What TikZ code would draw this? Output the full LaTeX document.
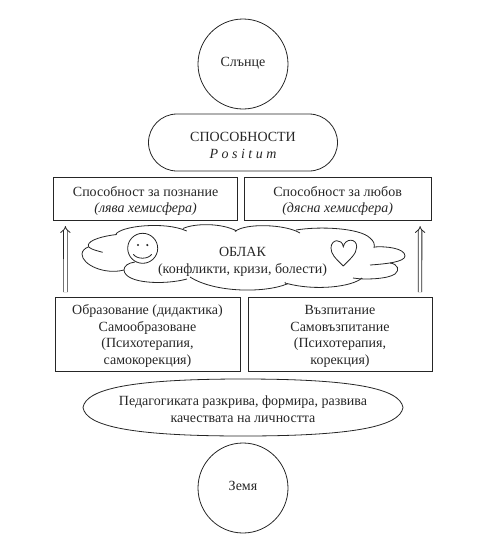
\documentclass[tikz,border=0pt]{standalone}
\usepackage{fontspec}
\setmainfont{Liberation Serif}
\usetikzlibrary{positioning,arrows.meta,shapes.misc}
\newcommand{\firstline}[1]{\rule{0pt}{#1}}

\begin{document}
\begin{tikzpicture}[
			x=1pt,
			y=-1pt,
			line width=.8pt,
			color=black!85,
			every node/.style={
				outer sep=0pt,
				inner sep=0pt,
				align=center,
				font=\fontsize{14}{16.5}\selectfont
			},
			planet/.style={
				circle,
				draw,
				minimum size=90pt,
				execute at end node={\rule[-4pt]{0pt}{0pt}}
			},
			pill/.style={
				rounded rectangle,
				draw,
				minimum width=189pt,
				minimum height=57pt
			},
			upperbox/.style={
				rectangle,
				draw,
				minimum height=43pt
			},
			lowerbox/.style={
				rectangle,
				draw,
				minimum height=74pt
			},
			risearrow/.style={
				double,
				double distance=2.8pt,
				line width=.8pt,
				-{Implies}
			}
			]
			\useasboundingbox (0,0) rectangle (490,550);
			\node[planet] (sun) at (243,64) {Слънце};
			\node[pill, below=5pt of sun] (abil) {\firstline{15pt}СПОСОБНОСТИ\\ \textit{P o s i t u m}};
			\node[upperbox, minimum width=184pt] (know) at (145.6,198.5) {\firstline{15pt}Способност за познание\\ \textit{(лява хемисфера)}};
			\node[upperbox, minimum width=187pt, right=6.5pt of know] (love) {\firstline{15pt}Способност за любов\\ \textit{(дясна хемисфера)}};
			\node[lowerbox, minimum width=185pt] (edu) at (147.5,334) {\firstline{14pt}Образование (дидактика)\\ Самообразоване\\ (Психотерапия,\\ самокорекция)};
			\node[lowerbox, minimum width=184pt, right=8pt of edu] (nurt) {\firstline{14pt}Възпитание\\ Самовъзпитание\\ (Психотерапия,\\ корекция)};
			\node[minimum width=320pt, minimum height=57pt] (ped) at (243,407.5) {\firstline{13pt}Педагогиката разкрива, формира, развива\\ качествата на личността};
			\node[planet, below=7pt of ped] (earth) {Земя};
			\node (cloudtext) at (242.5,262) {ОБЛАК\\ (конфликти, кризи, болести)};

			% oval
			\draw (ped.west) .. controls +(3,-19) and +(-110,0) .. (ped.north)
				.. controls +(110,0) and +(-3,-19) .. (ped.east)
				.. controls +(-3,19) and +(110,0) .. (ped.south)
				.. controls +(-110,0) and +(3,19) .. (ped.west);

			% cloud
			\draw (102.7,252.3) .. controls (94,250) and (87,248) .. (88.3,245)
				.. controls (89,240) and (103,236) .. (116.7,234.5);
			\draw (115.7,234.5) .. controls (120,226) and (165,221) .. (186.7,231);
			\draw (183,228.5) .. controls (195,223) and (222,223) .. (236.7,231);
			\draw (235,231.5) .. controls (245,223) and (285,224) .. (300,233);
			\draw (296,230) .. controls (320,226) and (360,228) .. (370,238)
				.. controls (374,241) and (375,245) .. (374,248);
			\draw (374,247) .. controls (385,246) and (405,248) .. (405,256)
				.. controls (405,262) and (385,264) .. (370,265);
			\draw (390,263) .. controls (398,264) and (400,270) .. (395,274)
				.. controls (388,279) and (365,280) .. (353,278);
			\draw (362,278) .. controls (352,287) and (315,291) .. (287,283.5);
			\draw (285,282) .. controls (285,283) and (285,283) .. (287,284)
				.. controls (265,293) and (215,293) .. (190,277);
			\draw (187,279) .. controls (165,285) and (125,284) .. (124,270)
				.. controls (124,266) and (128,263) .. (135,262);
			\draw (124,270) .. controls (105,275) and (82,265) .. (82,254)
				.. controls (82,251) and (85,248) .. (88.3,247);

			% smiley
			\draw (142.7,248.3) circle (15);
			\fill (138,245) circle (1.2) (147.3,245) circle (1.2);
			\draw (133.3,254.3) .. controls (137,259.5) and (148,259.5) .. (151.7,254.3);

			% heart
			\draw (343.3,266) .. controls (335,258) and (331,254) .. (331,248)
				.. controls (331,239) and (342,238) .. (343.3,246.7)
				.. controls (345,238) and (357,238) .. (356.7,247)
				.. controls (356.5,254) and (350,259) .. (343.3,266);

			\draw[risearrow] ([xshift=10.5pt,yshift=5pt]edu.north west) -- ([xshift=11.8pt,yshift=-6pt]know.south west);
			\draw[risearrow] ([xshift=-12pt,yshift=5pt]nurt.north east) -- ([xshift=-11pt,yshift=-6pt]love.south east);
		\end{tikzpicture}
\end{document}
